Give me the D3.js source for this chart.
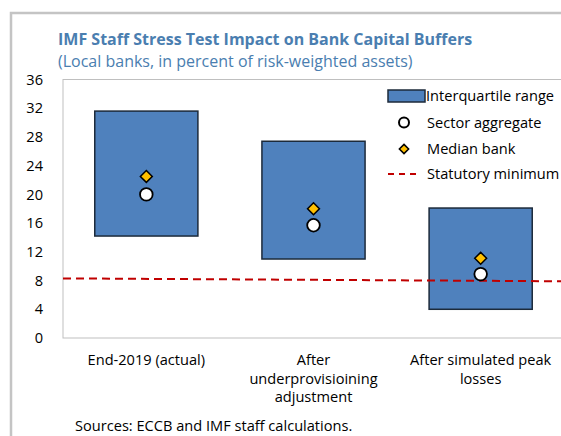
<!DOCTYPE html>
<html>
<head>
<meta charset="utf-8">
<script src="https://cdn.jsdelivr.net/npm/d3@7"></script>
<style>
  body { margin: 0; background: #fff; }
  text { font-family: "Open Sans", "Noto Sans", sans-serif; fill: #000; }
</style>
</head>
<body>
<script>
// data
var categories = ["End-2019 (actual)", "After underprovisioining adjustment", "After simulated peak losses"];
var categoryLines = [["End-2019 (actual)"], ["After", "underprovisioining", "adjustment"], ["After simulated peak", "losses"]];
var q1 = [14.2, 11.0, 4.0];
var q3 = [31.6, 27.4, 18.1];
var sectorAggregate = [20.0, 15.7, 8.9];
var medianBank = [22.5, 18.0, 11.1];
var statutoryPos = [0, 3];
var statutoryMin = [8.3, 7.9];
var yTicks = [0, 4, 8, 12, 16, 20, 24, 28, 32, 36];
var legendItems = ["Interquartile range", "Sector aggregate", "Median bank", "Statutory minimum"];

var W = 561, H = 436;
var margin = {top: 79.5, right: -3, bottom: 98, left: 63},
    width = W - margin.left - margin.right,
    height = H - margin.top - margin.bottom;
var fs = "14.6px";

var svg0 = d3.select("body").append("svg")
    .attr("width", W)
    .attr("height", H);

// outer frame (left + top edges)
svg0.append("path")
    .attr("d", "M11," + H + "V13H" + W)
    .attr("fill", "none")
    .attr("stroke", "#c4c4c4")
    .attr("stroke-width", 2.5);

// titles
svg0.append("text")
    .attr("x", 58).attr("y", 45)
    .style("font-size", "16px")
    .style("font-weight", "bold")
    .style("fill", "#4a7eb0")
    .text("IMF Staff Stress Test Impact on Bank Capital Buffers");
svg0.append("text")
    .attr("x", 58).attr("y", 67)
    .style("font-size", "16px")
    .style("fill", "#4a7eb0")
    .text("(Local banks, in percent of risk-weighted assets)");

var svg = svg0.append("g")
    .attr("transform", "translate(" + margin.left + "," + margin.top + ")");

// scales
var x = d3.scaleBand().domain(categories).range([0, width]).paddingInner(0.383).paddingOuter(0.19);
var xl = d3.scaleLinear().domain([0, 3]).range([0, width]);
var y = d3.scaleLinear().domain([0, 36]).range([height, 0]);

// plot frame
svg.append("rect")
    .attr("x", 0).attr("y", 0)
    .attr("width", width).attr("height", height)
    .attr("fill", "none")
    .attr("stroke", "#bfbfbf")
    .attr("stroke-width", 1);

// y axis
var yAxis = svg.append("g")
    .call(d3.axisLeft(y).tickValues(yTicks).tickSize(0).tickPadding(20));
yAxis.select(".domain").remove();
yAxis.selectAll("text").style("font-size", fs).style("font-family", "'Open Sans', sans-serif");

// interquartile boxes
svg.selectAll(".box")
    .data(categories)
    .enter().append("rect")
    .attr("class", "box")
    .attr("x", function(d) { return x(d); })
    .attr("width", x.bandwidth())
    .attr("y", function(d, i) { return y(q3[i]); })
    .attr("height", function(d, i) { return y(q1[i]) - y(q3[i]); })
    .attr("fill", "#4f81bd")
    .attr("stroke", "#1c2a3a")
    .attr("stroke-width", 1.5);

// statutory minimum
var line = d3.line()
    .x(function(d) { return xl(d[0]); })
    .y(function(d) { return y(d[1]); });
svg.append("path")
    .datum(d3.zip(statutoryPos, statutoryMin))
    .attr("d", line)
    .attr("fill", "none")
    .attr("stroke", "#c00000")
    .attr("stroke-width", 2)
    .attr("stroke-dasharray", "8,5");

var diamond = d3.symbol().type(d3.symbolDiamond2).size(90);

// median bank
svg.selectAll(".med")
    .data(categories)
    .enter().append("path")
    .attr("class", "med")
    .attr("d", diamond)
    .attr("transform", function(d, i) { return "translate(" + (x(d) + x.bandwidth() / 2) + "," + y(medianBank[i]) + ")"; })
    .attr("fill", "#ffc000")
    .attr("stroke", "#000")
    .attr("stroke-width", 1.5);

// sector aggregate
svg.selectAll(".agg")
    .data(categories)
    .enter().append("circle")
    .attr("class", "agg")
    .attr("cx", function(d) { return x(d) + x.bandwidth() / 2; })
    .attr("cy", function(d, i) { return y(sectorAggregate[i]); })
    .attr("r", 6.3)
    .attr("fill", "#fff")
    .attr("stroke", "#000")
    .attr("stroke-width", 1.8);

// x labels
svg.selectAll(".xlab")
    .data(categories)
    .enter().append("text")
    .attr("class", "xlab")
    .attr("text-anchor", "middle")
    .style("font-size", fs)
    .attr("transform", function(d) { return "translate(" + (x(d) + x.bandwidth() / 2) + "," + (height + 27) + ")"; })
    .each(function(d, i) {
      d3.select(this).selectAll("tspan")
        .data(categoryLines[i])
        .enter().append("tspan")
        .attr("x", 0)
        .attr("dy", function(t, j) { return j ? 18.5 : 0; })
        .text(function(t) { return t; });
    });

// legend
var lg = svg0.append("g").attr("transform", "translate(388,96)");
var rowH = 26.5;
lg.append("rect")
    .attr("x", 0).attr("y", -6).attr("width", 37).attr("height", 12)
    .attr("fill", "#4f81bd").attr("stroke", "#1c2a3a").attr("stroke-width", 1.5);
lg.append("circle")
    .attr("cx", 16).attr("cy", rowH).attr("r", 5)
    .attr("fill", "#fff").attr("stroke", "#000").attr("stroke-width", 2);
lg.append("path")
    .attr("d", d3.symbol().type(d3.symbolDiamond2).size(55))
    .attr("transform", "translate(16," + rowH * 2 + ")")
    .attr("fill", "#ffc000").attr("stroke", "#000").attr("stroke-width", 1.5);
lg.append("line")
    .attr("x1", 0).attr("x2", 32).attr("y1", rowH * 3 - 1.5).attr("y2", rowH * 3 - 1.5)
    .attr("stroke", "#c00000").attr("stroke-width", 2).attr("stroke-dasharray", "6,5");
lg.selectAll(".lt")
    .data(legendItems)
    .enter().append("text")
    .attr("class", "lt")
    .attr("x", function(d, i) { return i ? 39 : 38; })
    .attr("y", function(d, i) { return i * rowH - (i == 3 ? 1.5 : 0); })
    .attr("dy", "0.35em")
    .style("font-size", fs)
    .text(function(d) { return d; });

// source note
svg0.append("text")
    .attr("x", 75).attr("y", 431)
    .style("font-size", fs)
    .text("Sources: ECCB and IMF staff calculations.");
</script>
</body>
</html>
